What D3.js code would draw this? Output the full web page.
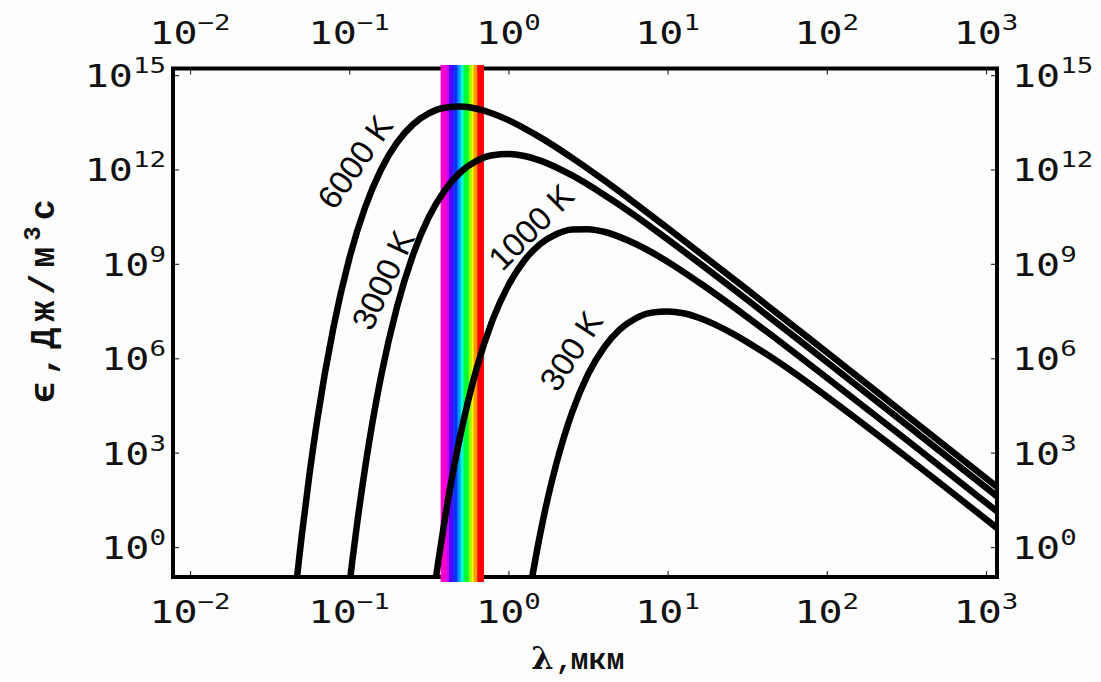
<!DOCTYPE html>
<html>
<head>
<meta charset="utf-8">
<script src="https://cdn.jsdelivr.net/npm/d3@7"></script>
<style>
  body { margin: 0; background: #fcfdfc; }
  svg { display: block; }
  .tick-lbl { font-family: "DejaVu Sans Mono", monospace; fill: #111; }
  .ttl { font-family: "Liberation Mono", monospace; font-weight: bold; fill: #111; }
  .clbl { font-family: "Liberation Sans", sans-serif; fill: #000; }
</style>
</head>
<body>
<svg id="chart" width="1101" height="682"></svg>
<script>
// wavelength exponents (log10 of micrometres) and energy exponents (log10)
var lam6000 = [-1.33, -1.3, -1.25, -1.2, -1.1, -1.0, -0.9, -0.8, -0.7, -0.6, -0.5, -0.4, -0.3, -0.2, -0.1, 0, 0.2, 0.4, 0.6, 0.8, 1.0, 1.5, 2.0, 2.5, 3.07];
var eps6000 = [-1.05, 0.29, 2.30, 4.07, 6.96, 9.16, 10.80, 12.00, 12.85, 13.43, 13.78, 13.96, 14.00, 13.93, 13.78, 13.57, 13.02, 12.37, 11.66, 10.91, 10.14, 8.18, 6.19, 4.19, 1.91];

var lam3000 = [-1.0, -0.98, -0.95, -0.9, -0.8, -0.7, -0.6, -0.5, -0.4, -0.3, -0.2, -0.1, 0, 0.1, 0.2, 0.4, 0.6, 0.8, 1.0, 1.5, 2.0, 2.5, 3.07];
var eps3000 = [-1.26, -0.42, 0.76, 2.53, 5.43, 7.63, 9.28, 10.49, 11.34, 11.92, 12.27, 12.45, 12.49, 12.43, 12.28, 11.81, 11.20, 10.52, 9.78, 7.86, 5.88, 3.89, 1.61];

var lam1000 = [-0.46, -0.44, -0.4, -0.35, -0.3, -0.2, -0.1, 0, 0.1, 0.2, 0.3, 0.4, 0.5, 0.6, 0.8, 1.0, 1.2, 1.5, 2.0, 2.5, 3.07];
var eps1000 = [-1.15, -0.44, 0.87, 2.33, 3.60, 5.67, 7.21, 8.32, 9.11, 9.63, 9.94, 10.09, 10.10, 10.02, 9.63, 9.07, 8.40, 7.31, 5.38, 3.41, 1.13];

var lam300 = [0.14, 0.2, 0.25, 0.3, 0.4, 0.5, 0.6, 0.7, 0.8, 0.9, 1.0, 1.1, 1.2, 1.4, 1.6, 1.8, 2.0, 2.5, 3.07];
var eps300 = [-1.22, 0.43, 1.61, 2.63, 4.28, 5.49, 6.34, 6.92, 7.27, 7.45, 7.49, 7.43, 7.28, 6.81, 6.20, 5.52, 4.78, 2.86, 0.60];

var curveNames = ["6000 K", "3000 K", "1000 K", "300 K"];

// visible band: stripe edges in micrometres
var bandEdges = [0.375, 0.408, 0.423, 0.45, 0.479, 0.501, 0.524, 0.563, 0.588, 0.604, 0.637, 0.697];

var xTickExp = [-2, -1, 0, 1, 2, 3];
var yTickExp = [0, 3, 6, 9, 12, 15];

function drawChart() {
    var svg = d3.select("#chart");
    var left = 173, right = 997, top = 68.5, bottom = 577;

    var x = d3.scaleLog().domain([Math.pow(10, -2.107), Math.pow(10, 3.069)]).range([left, right]);
    var y = d3.scaleLog().domain([Math.pow(10, -0.953), Math.pow(10, 15.21)]).range([bottom, top]);

    svg.append("rect").attr("width", 1101).attr("height", 682).attr("fill", "#fcfdfc");

    svg.append("clipPath").attr("id", "plotclip")
        .append("rect")
        .attr("x", left).attr("y", top)
        .attr("width", right - left).attr("height", bottom - top);

    // tick marks pointing inwards on all four sides
    var xt = xTickExp.map(function(e) { return Math.pow(10, e); });
    var yt = yTickExp.map(function(e) { return Math.pow(10, e); });

    svg.append("g").attr("transform", "translate(0," + bottom + ")")
        .call(d3.axisBottom(x).tickValues(xt).tickSize(-6).tickFormat(""));
    svg.append("g").attr("transform", "translate(0," + top + ")")
        .call(d3.axisTop(x).tickValues(xt).tickSize(-6).tickFormat(""));
    svg.append("g").attr("transform", "translate(" + left + ",0)")
        .call(d3.axisLeft(y).tickValues(yt).tickSize(-6).tickFormat(""));
    svg.append("g").attr("transform", "translate(" + right + ",0)")
        .call(d3.axisRight(y).tickValues(yt).tickSize(-6).tickFormat(""));
    svg.selectAll(".domain").remove();
    svg.selectAll(".tick line").attr("stroke", "#333").attr("stroke-width", 1.2);

    // frame
    svg.append("rect")
        .attr("x", left).attr("y", top)
        .attr("width", right - left).attr("height", bottom - top)
        .attr("fill", "none").attr("stroke", "#000").attr("stroke-width", 4);

    // spectrum band
    var bandColors = ["#ff00cc", "#cc00ff", "#5500ff", "#0033ff", "#0099ff", "#00ffcc",
                      "#00ff33", "#99ff00", "#ffff00", "#ff9900", "#ff0000"];
    var stripes = d3.pairs(bandEdges);
    svg.append("g").selectAll("rect")
        .data(stripes)
        .enter().append("rect")
        .attr("x", function(d) { return x(d[0]); })
        .attr("width", function(d) { return x(d[1]) - x(d[0]) + 0.5; })
        .attr("y", top - 3.5)
        .attr("height", bottom - top + 8.5)
        .attr("fill", function(d, i) { return bandColors[i]; });

    // curves
    var series = [[lam6000, eps6000], [lam3000, eps3000], [lam1000, eps1000], [lam300, eps300]];
    var line = d3.line()
        .x(function(d) { return x(Math.pow(10, d[0])); })
        .y(function(d) { return y(Math.pow(10, d[1])); })
        .curve(d3.curveMonotoneX);

    svg.append("g").attr("clip-path", "url(#plotclip)")
        .selectAll("path")
        .data(series)
        .enter().append("path")
        .attr("d", function(s) { return line(d3.zip(s[0], s[1])); })
        .attr("fill", "none")
        .attr("stroke", "#000")
        .attr("stroke-width", 6.5)
        .attr("stroke-linejoin", "round");

    // curve labels
    var labelPos = [[355, 162, -55], [383, 280, -65], [531, 227, -45], [571, 351, -57]];
    svg.selectAll(".clbl")
        .data(curveNames)
        .enter().append("text")
        .attr("class", "clbl")
        .attr("transform", function(d, i) {
            var p = labelPos[i];
            return "translate(" + p[0] + "," + p[1] + ") rotate(" + p[2] + ")";
        })
        .attr("text-anchor", "middle")
        .attr("dy", "0.35em")
        .attr("font-size", 33)
        .text(function(d) { return d; });

    // power-of-ten labels
    function powLabel(g, exp, anchor) {
        var t = g.append("text")
            .attr("class", "tick-lbl")
            .attr("text-anchor", anchor)
            .attr("font-size", 32);
        t.append("tspan").text("10");
        t.append("tspan").attr("dy", -14).attr("font-size", 22)
            .text(exp < 0 ? "\u2212" + (-exp) : exp);
    }

    xTickExp.forEach(function(e) {
        var px = x(Math.pow(10, e));
        powLabel(svg.append("g").attr("transform", "translate(" + px + ",623) scale(1.25,1)"), e, "middle");
        powLabel(svg.append("g").attr("transform", "translate(" + px + ",44) scale(1.25,1)"), e, "middle");
    });
    yTickExp.forEach(function(e) {
        var py = y(Math.pow(10, e)) + 12;
        powLabel(svg.append("g").attr("transform", "translate(166," + py + ") scale(1.25,1)"), e, "end");
        powLabel(svg.append("g").attr("transform", "translate(1012," + py + ") scale(1.25,1)"), e, "start");
    });

    // axis titles
    var xt1 = svg.append("text").attr("class", "ttl")
        .attr("x", 578).attr("y", 669)
        .attr("text-anchor", "middle").attr("font-size", 28);
    xt1.append("tspan").attr("font-family", "DejaVu Serif").attr("font-size", 32).text("\u03bb");
    xt1.append("tspan").attr("dx", 2).text(",");
    xt1.append("tspan").attr("dx", -2).attr("font-size", 30).text("мкм");

    var yt1 = svg.append("text").attr("class", "ttl")
        .attr("transform", "translate(54,298) rotate(-90)")
        .attr("text-anchor", "middle").attr("font-size", 35)
        .attr("letter-spacing", 6);
    yt1.append("tspan").text("\u03f5,Дж/м");
    yt1.append("tspan").attr("dy", -14).attr("font-size", 24).text("3");
    yt1.append("tspan").attr("dy", 14).text("с");
}

drawChart();
</script>
</body>
</html>
